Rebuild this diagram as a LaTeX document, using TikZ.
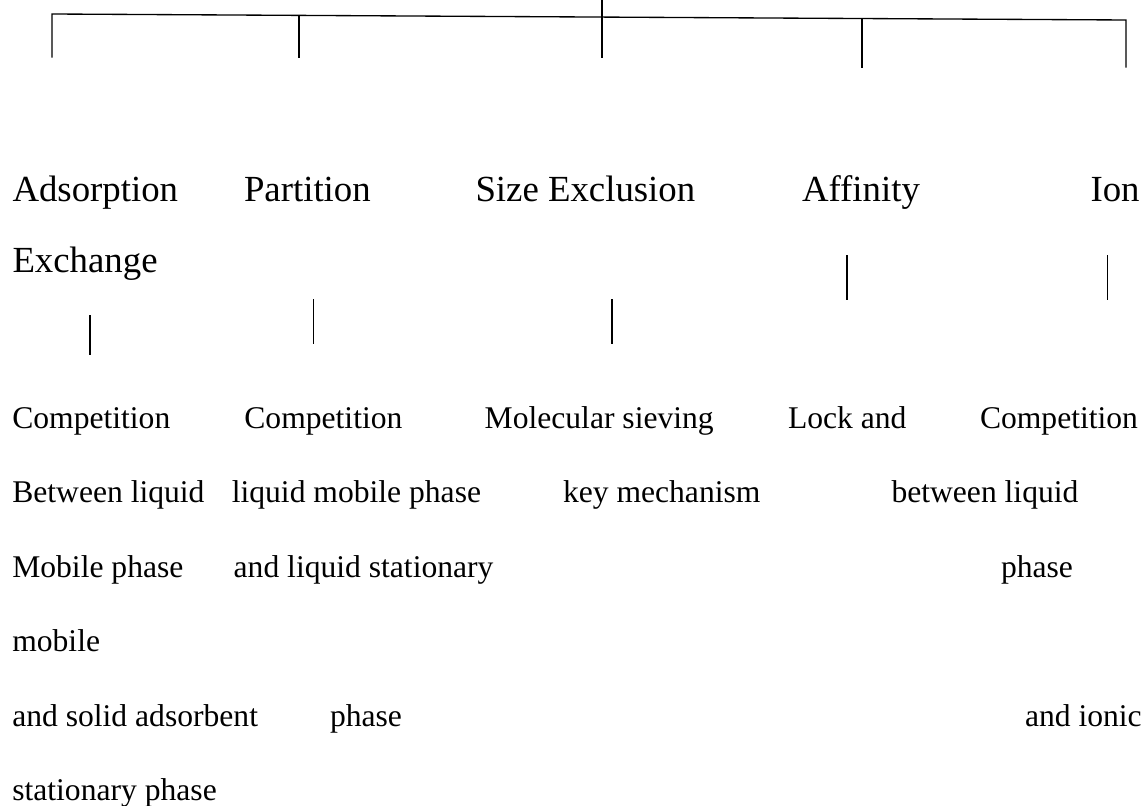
\documentclass[tikz,border=0pt]{standalone}
\usepackage{fontspec}
\setmainfont{Liberation Serif}
\begin{document}
\begin{tikzpicture}[x=0.75pt,y=-0.75pt,
  txt/.style={anchor=base west,inner sep=0pt,outer sep=0pt,font=\fontsize{23.7}{28}\selectfont},
  head/.style={anchor=base west,inner sep=0pt,outer sep=0pt,font=\fontsize{27.6}{32}\selectfont},
  bar/.style={line width=1pt,line cap=rect},
  subbar/.style={line width=0.8pt}]
\useasboundingbox (0,0) rectangle (1146,806);
% top tree
\coordinate (root) at (602,0);
\coordinate (hl) at (52,14);
\coordinate (hr) at (1126,20);
\coordinate (j1) at (299,15.6);
\coordinate (j3) at (602,17.1);
\coordinate (j4) at (862,18.5);
\coordinate (t1) at (52,57);
\coordinate (t2) at (299,57);
\coordinate (t3) at (602,57);
\coordinate (t4) at (862,67);
\coordinate (t5) at (1126,67);
\draw[bar] (t1) -- (hl) -- (hr) -- (t5);
\draw[bar] (j1) -- (t2);
\draw[bar] (root) -- (t3);
\draw[bar] (j4) -- (t4);
% headings
\node[head] (adsorption) at (12.5,201.7) {Adsorption};
\node[head] (partition) at (244,201.7) {Partition};
\node[head] (size) at (475.5,201.7) {Size Exclusion};
\node[head] (affinity) at (802,201.7) {Affinity};
\node[head] (ion) at (1090.5,201.7) {Ion};
\node[head] (exchange) at (12.5,272.7) {Exchange};
% sub ticks
\coordinate (s1a) at (90,315);   \coordinate (s1b) at (90,355);
\coordinate (s2a) at (313.5,299); \coordinate (s2b) at (313.5,344);
\coordinate (s3a) at (612,299);  \coordinate (s3b) at (612,344);
\coordinate (s4a) at (847,255);  \coordinate (s4b) at (847,300);
\coordinate (s5a) at (1107.5,255); \coordinate (s5b) at (1107.5,300);
\draw[subbar] (s1a) -- (s1b);
\draw[subbar] (s2a) -- (s2b);
\draw[subbar] (s3a) -- (s3b);
\draw[subbar] (s4a) -- (s4b);
\draw[subbar] (s5a) -- (s5b);
% body rows
\node[txt] (a1) at (12.3,428) {Competition};
\node[txt] (b1) at (244.4,428) {Competition};
\node[txt] (c1) at (484.7,428) {Molecular sieving};
\node[txt] (d1) at (788,428) {Lock and};
\node[txt] (e1) at (980,428) {Competition};
\node[txt] (a2) at (12.3,502.5) {Between liquid};
\node[txt] (b2) at (231.8,502.5) {liquid mobile phase};
\node[txt] (c2) at (563,502.5) {key mechanism};
\node[txt] (e2) at (891.5,502.5) {between liquid};
\node[txt] (a3) at (12.3,577) {Mobile phase};
\node[txt] (b3) at (233.7,577) {and liquid stationary};
\node[txt] (e3) at (1001,577) {phase};
\node[txt] (a4) at (12.3,651.5) {mobile};
\node[txt] (a5) at (12.3,726) {and solid adsorbent};
\node[txt] (b5) at (330,726) {phase};
\node[txt] (e5) at (1025,726) {and ionic};
\node[txt] (a6) at (12.3,800.5) {stationary phase};
\end{tikzpicture}
\end{document}
